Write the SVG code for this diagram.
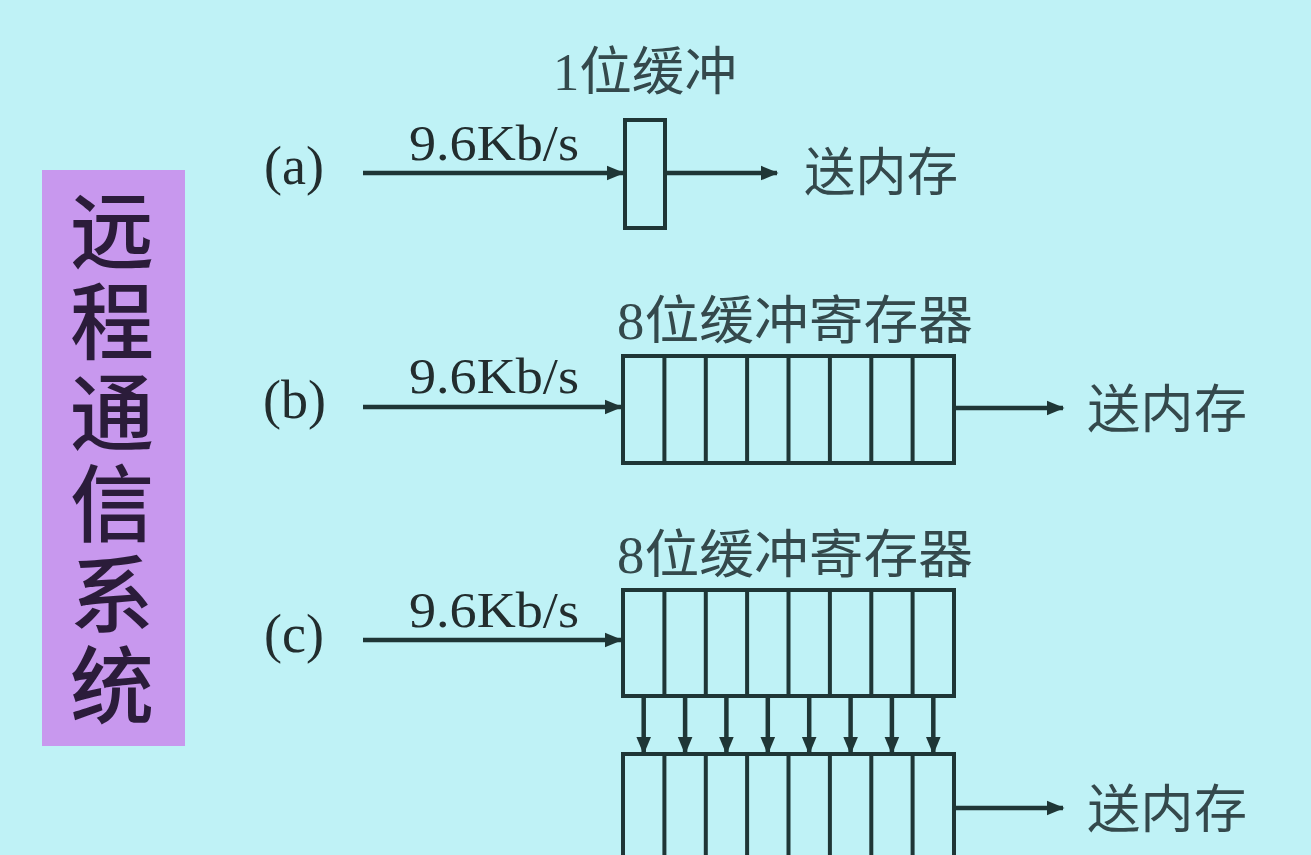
<svg xmlns="http://www.w3.org/2000/svg" width="1311" height="855" viewBox="0 0 1311 855">
<defs>
<style>
.bg{fill:#bff2f6}
.reg{fill:none;stroke:#1f3636;stroke-width:4}
.cell{stroke:#1f3636;stroke-width:4}
.ln{stroke:#1f3636;stroke-width:4.5;fill:none}
.lat{font-family:"Liberation Serif","Noto Sans CJK SC",serif;fill:#222d2e}
.cjk{font-family:"Liberation Serif","Noto Sans CJK SC",serif;fill:#34494c;font-size:52px}
.title{font-family:"Noto Sans CJK SC",sans-serif;font-size:84px;font-weight:500;fill:#2b1c3a;writing-mode:vertical-rl;letter-spacing:7px}
</style>
<marker id="ah" viewBox="0 0 12 10" refX="11" refY="5" markerWidth="4" markerHeight="3.6" orient="auto" markerUnits="strokeWidth">
<path d="M0,0 L12,5 L0,10 z" fill="#1f3636"/>
</marker>
</defs>
<rect class="bg" x="0" y="0" width="1311" height="855"/>

<g id="title">
<rect x="42" y="170" width="143" height="576" fill="#c898ee"/>
<text class="title" x="112" y="188">远程通信系统</text>
</g>

<g id="a">
<text class="lat" x="264" y="184" font-size="54">(a)</text>
<text class="lat" x="409" y="160" font-size="50" textLength="170" lengthAdjust="spacingAndGlyphs">9.6Kb/s</text>
<text class="cjk" x="553" y="90" textLength="184" lengthAdjust="spacingAndGlyphs">1位缓冲</text>
<rect class="reg" x="625" y="120" width="40" height="108"/>
<text class="cjk" x="804" y="191" textLength="154" lengthAdjust="spacingAndGlyphs">送内存</text>
</g>

<g id="b">
<text class="lat" x="263" y="418" font-size="54">(b)</text>
<text class="lat" x="409" y="393" font-size="50" textLength="170" lengthAdjust="spacingAndGlyphs">9.6Kb/s</text>
<text class="cjk" x="617" y="339" textLength="356" lengthAdjust="spacingAndGlyphs">8位缓冲寄存器</text>
<rect class="reg" x="623" y="356" width="331" height="107"/>
<g class="cell">
<line x1="664.4" y1="356" x2="664.4" y2="463"/>
<line x1="705.8" y1="356" x2="705.8" y2="463"/>
<line x1="747.1" y1="356" x2="747.1" y2="463"/>
<line x1="788.5" y1="356" x2="788.5" y2="463"/>
<line x1="829.9" y1="356" x2="829.9" y2="463"/>
<line x1="871.3" y1="356" x2="871.3" y2="463"/>
<line x1="912.6" y1="356" x2="912.6" y2="463"/>
</g>
<text class="cjk" x="1087" y="428" textLength="160" lengthAdjust="spacingAndGlyphs">送内存</text>
</g>

<g id="c">
<text class="lat" x="264" y="652" font-size="54">(c)</text>
<text class="lat" x="409" y="627" font-size="50" textLength="170" lengthAdjust="spacingAndGlyphs">9.6Kb/s</text>
<text class="cjk" x="617" y="573" textLength="356" lengthAdjust="spacingAndGlyphs">8位缓冲寄存器</text>
<rect class="reg" x="623" y="590" width="331" height="106"/>
<g class="cell">
<line x1="664.4" y1="590" x2="664.4" y2="696"/>
<line x1="705.8" y1="590" x2="705.8" y2="696"/>
<line x1="747.1" y1="590" x2="747.1" y2="696"/>
<line x1="788.5" y1="590" x2="788.5" y2="696"/>
<line x1="829.9" y1="590" x2="829.9" y2="696"/>
<line x1="871.3" y1="590" x2="871.3" y2="696"/>
<line x1="912.6" y1="590" x2="912.6" y2="696"/>
</g>
<rect class="reg" x="623" y="754" width="331" height="120"/>
<g class="cell">
<line x1="664.4" y1="754" x2="664.4" y2="860"/>
<line x1="705.8" y1="754" x2="705.8" y2="860"/>
<line x1="747.1" y1="754" x2="747.1" y2="860"/>
<line x1="788.5" y1="754" x2="788.5" y2="860"/>
<line x1="829.9" y1="754" x2="829.9" y2="860"/>
<line x1="871.3" y1="754" x2="871.3" y2="860"/>
<line x1="912.6" y1="754" x2="912.6" y2="860"/>
</g>
<text class="cjk" x="1087" y="828" textLength="160" lengthAdjust="spacingAndGlyphs">送内存</text>
</g>

<g id="connectors">
<line class="ln" x1="363" y1="173" x2="623" y2="173" marker-end="url(#ah)"/>
<line class="ln" x1="665" y1="173" x2="777" y2="173" marker-end="url(#ah)"/>
<line class="ln" x1="363" y1="407" x2="621" y2="407" marker-end="url(#ah)"/>
<line class="ln" x1="954" y1="408" x2="1063" y2="408" marker-end="url(#ah)"/>
<line class="ln" x1="363" y1="640" x2="621" y2="640" marker-end="url(#ah)"/>
<line class="ln" x1="954" y1="808" x2="1063" y2="808" marker-end="url(#ah)"/>
<line class="ln" x1="643.7" y1="696" x2="643.7" y2="753" marker-end="url(#ah)"/>
<line class="ln" x1="685.1" y1="696" x2="685.1" y2="753" marker-end="url(#ah)"/>
<line class="ln" x1="726.4" y1="696" x2="726.4" y2="753" marker-end="url(#ah)"/>
<line class="ln" x1="767.8" y1="696" x2="767.8" y2="753" marker-end="url(#ah)"/>
<line class="ln" x1="809.2" y1="696" x2="809.2" y2="753" marker-end="url(#ah)"/>
<line class="ln" x1="850.6" y1="696" x2="850.6" y2="753" marker-end="url(#ah)"/>
<line class="ln" x1="891.9" y1="696" x2="891.9" y2="753" marker-end="url(#ah)"/>
<line class="ln" x1="933.3" y1="696" x2="933.3" y2="753" marker-end="url(#ah)"/>
</g>
</svg>
